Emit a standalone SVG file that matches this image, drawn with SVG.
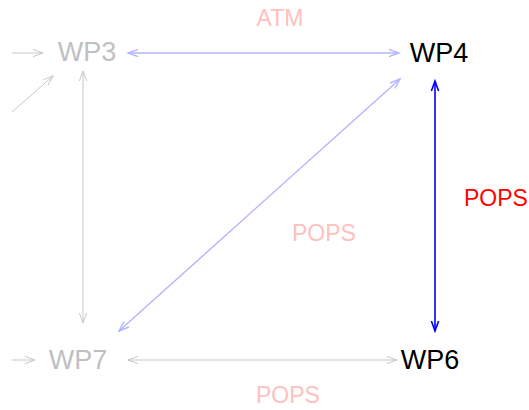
<svg xmlns="http://www.w3.org/2000/svg" width="529" height="410" viewBox="0 0 529 410">
<style>
text{font-family:"Liberation Sans",Arial,sans-serif}
.node{font-size:27px}
.lbl{font-size:23px}
.dim{fill:#c0c0c0}
.dark{fill:#000}
.pink{fill:#ffc0c0}
.red{fill:#ff0000}
.eg{stroke:#c8c8c8;stroke-width:1;fill:none}
.eb{stroke:#b4b4ff;stroke-width:1.4;fill:none}
.ebb{stroke:#0000ff;stroke-width:1.6;fill:none}
</style>
<defs>
<marker id="ag" markerUnits="userSpaceOnUse" markerWidth="14" markerHeight="10" viewBox="-1 -5 12 10" refX="10" refY="0" orient="auto-start-reverse"><path d="M0,-3.6 L10,0 L0,3.6" fill="none" stroke="#c8c8c8" stroke-width="1"/></marker>
<marker id="al" markerUnits="userSpaceOnUse" markerWidth="14" markerHeight="10" viewBox="-1 -5 12 10" refX="10" refY="0" orient="auto-start-reverse"><path d="M0,-3.6 L10,0 L0,3.6" fill="none" stroke="#b4b4ff" stroke-width="1.4"/></marker>
<marker id="ab" markerUnits="userSpaceOnUse" markerWidth="14" markerHeight="10" viewBox="-1 -5 12 10" refX="10" refY="0" orient="auto-start-reverse"><path d="M0,-3.6 L10,0 L0,3.6" fill="none" stroke="#0000ff" stroke-width="1.6"/></marker>
</defs>
<g id="connectors">
<line class="eg" x1="12" y1="53" x2="43" y2="53" marker-end="url(#ag)"/>
<line class="eg" x1="12" y1="112" x2="53" y2="76" marker-end="url(#ag)"/>
<line class="eg" x1="12" y1="360" x2="35" y2="360" marker-end="url(#ag)"/>
<line class="eg" x1="83" y1="71" x2="83" y2="323" marker-start="url(#ag)" marker-end="url(#ag)"/>
<line class="eg" x1="128" y1="360" x2="397" y2="360" marker-start="url(#ag)" marker-end="url(#ag)"/>
<line class="eb" x1="128" y1="53" x2="399" y2="53" marker-start="url(#al)" marker-end="url(#al)"/>
<line class="eb" x1="400" y1="79" x2="119" y2="331" marker-start="url(#al)" marker-end="url(#al)"/>
<line class="ebb" x1="435" y1="81" x2="435" y2="331" marker-start="url(#ab)" marker-end="url(#ab)"/>
<text class="lbl pink" x="280" y="26" text-anchor="middle">ATM</text>
<text class="lbl pink" x="324" y="241" text-anchor="middle">POPS</text>
<text class="lbl red" x="496" y="206" text-anchor="middle">POPS</text>
<text class="lbl pink" x="288" y="403" text-anchor="middle">POPS</text>
</g>
<g id="WP3"><text class="node dim" x="87" y="61" text-anchor="middle">WP3</text></g>
<g id="WP4"><text class="node dark" x="439" y="62" text-anchor="middle">WP4</text></g>
<g id="WP7"><text class="node dim" x="78" y="369" text-anchor="middle">WP7</text></g>
<g id="WP6"><text class="node dark" x="430" y="369" text-anchor="middle">WP6</text></g>
</svg>
